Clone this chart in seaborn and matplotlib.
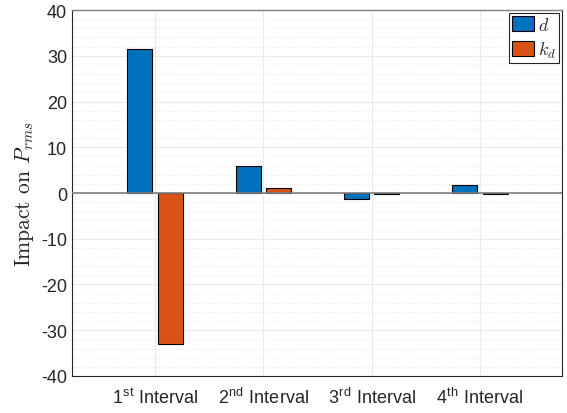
import matplotlib
matplotlib.use("Agg")
import matplotlib.pyplot as plt
from matplotlib.ticker import MultipleLocator
import seaborn as sns
import pandas as pd

categories = [r"1$^{\mathrm{st}}$ Interval", r"2$^{\mathrm{nd}}$ Interval",
              r"3$^{\mathrm{rd}}$ Interval", r"4$^{\mathrm{th}}$ Interval"]
d_values = [31.5, 6.0, -1.25, 1.7]
kd_values = [-33.0, 1.0, -0.15, -0.3]
series_labels = [r"$d$", r"$k_d$"]
colors = ["#0072BD", "#D95319"]
y_ticks = [-40, -30, -20, -10, 0, 10, 20, 30, 40]
y_tick_labels = ["-40", "-30", "-20", "-10", "0", "10", "20", "30", "40"]

df = pd.DataFrame({
    "cat": categories * 2,
    "val": d_values + kd_values,
    "series": [series_labels[0]] * 4 + [series_labels[1]] * 4,
})

sns.set_style("white")
plt.rcParams["font.family"] = ["Liberation Sans", "DejaVu Sans"]
plt.rcParams["mathtext.fontset"] = "custom"
plt.rcParams["mathtext.rm"] = "Liberation Sans"
plt.rcParams["mathtext.it"] = "cmmi10"
plt.rcParams["mathtext.bf"] = "Liberation Sans:bold"

fig = plt.figure(figsize=(5.67, 4.14), dpi=100)
ax = fig.add_axes([0.127, 0.0894, 0.864, 0.884])

sns.barplot(data=df, x="cat", y="val", hue="series", palette=colors,
            width=0.56, gap=0.18, edgecolor="black", linewidth=0.8,
            saturation=1, ax=ax, zorder=3)

ax.set_xlim(-0.765, 3.756)
ax.set_yticks(y_ticks, labels=y_tick_labels)
ax.yaxis.set_minor_locator(MultipleLocator(2))
ax.set_ylim(-40, 40)
ax.axhline(0, color="#808080", lw=1.2, zorder=4)

ax.grid(True, which="major", axis="both", color="#ebebeb", lw=0.8, ls="-", zorder=0)
ax.grid(True, which="minor", axis="y", color="#d9d9d9", lw=0.6, ls=(0, (1, 3)), zorder=0)
ax.set_axisbelow(True)

ax.tick_params(axis="both", which="major", direction="in", length=4, width=0.8,
               color="#262626", labelsize=13, labelcolor="#262626")
ax.tick_params(axis="y", which="minor", length=0)
ax.tick_params(axis="x", pad=8)

for s in ["left", "right", "bottom"]:
    ax.spines[s].set_color("#262626")
    ax.spines[s].set_linewidth(0.8)
ax.spines["top"].set_color("#808080")
ax.spines["top"].set_linewidth(1.0)

ax.set_xlabel("")
ax.set_ylabel("Impact on $P_{rms}$", fontsize=15.5, fontfamily="cmr10", color="#262626", labelpad=4)

leg = ax.legend(loc="upper right", fontsize=13, frameon=True, fancybox=False,
                edgecolor="#262626", framealpha=1, borderaxespad=0.15,
                handlelength=1.2, handleheight=0.9, handletextpad=0.2,
                borderpad=0.2, labelspacing=0.3)
leg.get_frame().set_linewidth(0.8)
leg.set_title(None)

fig.savefig("out.png", dpi=100)
